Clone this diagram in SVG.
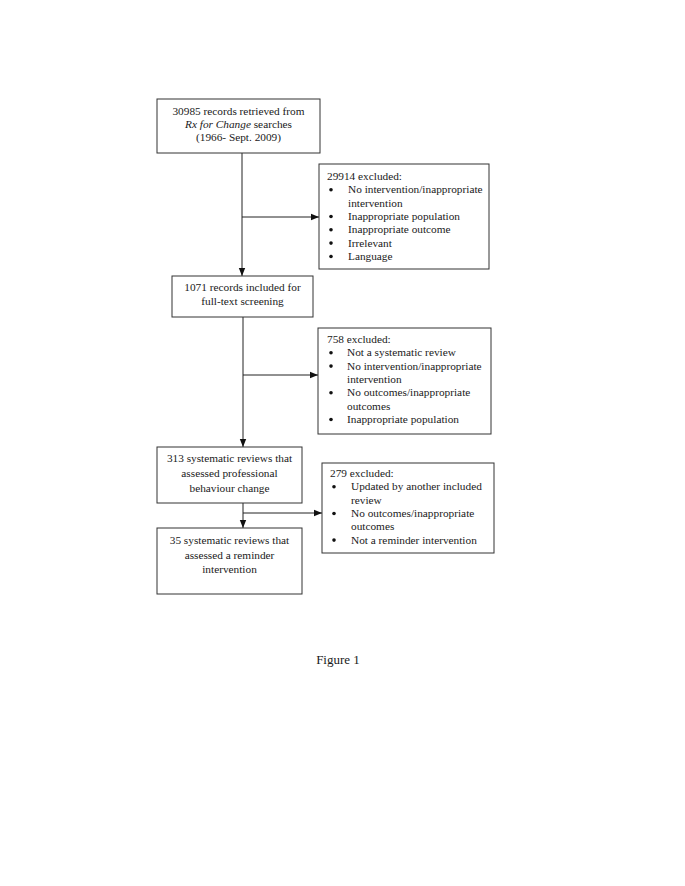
<svg xmlns="http://www.w3.org/2000/svg" width="685" height="886" viewBox="0 0 685 886">
<style>
.box{fill:#fff;stroke:#333;stroke-width:1}
.t{font-family:"Liberation Serif","Times New Roman",serif;font-size:11.3px;fill:#1a1a1a}
.c{text-anchor:middle}
.d{fill:#111}
.ln{stroke:#222;stroke-width:1;fill:none}
</style>
<defs>
<marker id="ah" viewBox="0 0 8 8" refX="8" refY="4" markerWidth="8" markerHeight="8" markerUnits="userSpaceOnUse" orient="auto">
<path d="M0,0.8 L8,4 L0,7.2 Z" fill="#111"/>
</marker>
</defs>
<rect width="685" height="886" fill="#fff"/>
<g id="connectors">
<line class="ln" x1="242" y1="153" x2="242" y2="276" marker-end="url(#ah)"/>
<line class="ln" x1="242" y1="217" x2="319" y2="217" marker-end="url(#ah)"/>
<line class="ln" x1="243" y1="317" x2="243" y2="447" marker-end="url(#ah)"/>
<line class="ln" x1="243" y1="375" x2="318" y2="375" marker-end="url(#ah)"/>
<line class="ln" x1="243" y1="503" x2="243" y2="528" marker-end="url(#ah)"/>
<line class="ln" x1="243" y1="513" x2="322" y2="513" marker-end="url(#ah)"/>
</g>
<g id="n1">
<rect class="box" x="157" y="99" width="163" height="54"/>
<text class="t c" x="238.5" y="115">30985 records retrieved from</text>
<text class="t c" x="238.5" y="128"><tspan font-style="italic">Rx for Change</tspan> searches</text>
<text class="t c" x="238.5" y="141">(1966- Sept. 2009)</text>
</g>
<g id="n2">
<rect class="box" x="319" y="164" width="170" height="105"/>
<text class="t" x="327" y="180">29914 excluded:</text>
<circle class="d" cx="331" cy="189.8" r="1.8"/><text class="t" x="348" y="193.3">No intervention/inappropriate</text>
<text class="t" x="348" y="206.6">intervention</text>
<circle class="d" cx="331" cy="216.5" r="1.8"/><text class="t" x="348" y="220">Inappropriate population</text>
<circle class="d" cx="331" cy="229.8" r="1.8"/><text class="t" x="348" y="233.3">Inappropriate outcome</text>
<circle class="d" cx="331" cy="243.1" r="1.8"/><text class="t" x="348" y="246.6">Irrelevant</text>
<circle class="d" cx="331" cy="256.5" r="1.8"/><text class="t" x="348" y="260">Language</text>
</g>
<g id="n3">
<rect class="box" x="172" y="276" width="141" height="41"/>
<text class="t c" x="242.5" y="291">1071 records included for</text>
<text class="t c" x="242.5" y="305">full-text screening</text>
</g>
<g id="n4">
<rect class="box" x="318" y="328" width="173" height="106"/>
<text class="t" x="327" y="343">758 excluded:</text>
<circle class="d" cx="331" cy="352.8" r="1.8"/><text class="t" x="347" y="356.3">Not a systematic review</text>
<circle class="d" cx="331" cy="366.1" r="1.8"/><text class="t" x="347" y="369.6">No intervention/inappropriate</text>
<text class="t" x="347" y="383">intervention</text>
<circle class="d" cx="331" cy="392.8" r="1.8"/><text class="t" x="347" y="396.3">No outcomes/inappropriate</text>
<text class="t" x="347" y="409.6">outcomes</text>
<circle class="d" cx="331" cy="419.5" r="1.8"/><text class="t" x="347" y="423">Inappropriate population</text>
</g>
<g id="n5">
<rect class="box" x="157" y="447" width="145" height="56"/>
<text class="t c" x="229.5" y="462">313 systematic reviews that</text>
<text class="t c" x="229.5" y="477">assessed professional</text>
<text class="t c" x="229.5" y="492">behaviour change</text>
</g>
<g id="n6">
<rect class="box" x="322" y="463" width="172" height="90"/>
<text class="t" x="330" y="477">279 excluded:</text>
<circle class="d" cx="334" cy="486.8" r="1.8"/><text class="t" x="351" y="490.3">Updated by another included</text>
<text class="t" x="351" y="503.6">review</text>
<circle class="d" cx="334" cy="513.5" r="1.8"/><text class="t" x="351" y="517">No outcomes/inappropriate</text>
<text class="t" x="351" y="530.3">outcomes</text>
<circle class="d" cx="334" cy="540.1" r="1.8"/><text class="t" x="351" y="543.6">Not a reminder intervention</text>
</g>
<g id="n7">
<rect class="box" x="157" y="528" width="145" height="66"/>
<text class="t c" x="229.5" y="544">35 systematic reviews that</text>
<text class="t c" x="229.5" y="559">assessed a reminder</text>
<text class="t c" x="229.5" y="573">intervention</text>
</g>
<text class="t c" x="338" y="664" style="font-size:13px">Figure 1</text>
</svg>
